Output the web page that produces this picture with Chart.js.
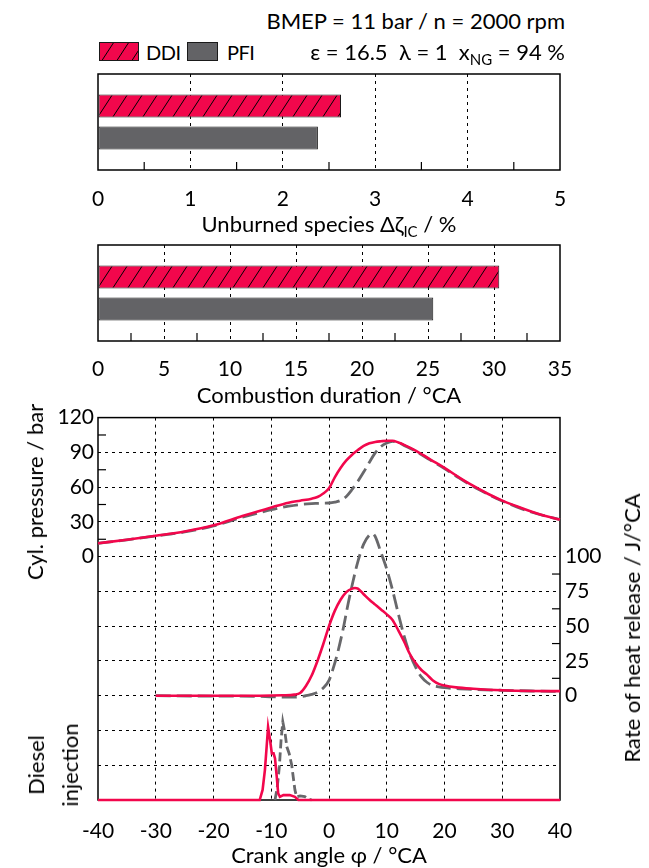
<!DOCTYPE html>
<html lang="en">
<head>
<meta charset="UTF-8">
<title>DDI vs PFI - unburned species, combustion duration, pressure and heat release</title>
<script src="https://cdn.jsdelivr.net/npm/chart.js"></script>
<style>
  body { margin: 0; background: #fff; }
  #page { position: relative; width: 649px; height: 868px; font-family: Lato, "Open Sans", sans-serif; font-size: 22px; color: #000; }
  #page canvas { position: absolute; left: 0; }
  .lbl { position: absolute; white-space: nowrap; line-height: 26px; }
  .leg { font-size: 20px; letter-spacing: -0.5px; }
  .ctr { transform: translateX(-50%); }
  .rot { transform: translate(-50%, -50%) rotate(-90deg); }
  sub { font-size: 15px; vertical-align: -5px; line-height: 0; }
</style>
</head>
<body>
<div id="page">
  <div class="lbl" style="right:84px;top:8px">BMEP = 11 bar / n = 2000 rpm</div>
  <canvas id="swDDI" width="40" height="19" style="left:99px;top:42px"></canvas>
  <div class="lbl leg" style="left:146px;top:39px">DDI</div>
  <canvas id="swPFI" width="31" height="19" style="left:187px;top:42px"></canvas>
  <div class="lbl leg" style="left:227px;top:39px">PFI</div>
  <div class="lbl" style="right:84px;top:39px">&epsilon; = 16.5&nbsp; &lambda; = 1&nbsp; x<sub>NG</sub> = 94 %</div>

  <canvas id="cUnburned" width="649" height="153" style="top:60px"></canvas>
  <div class="lbl ctr" style="left:329px;top:211px">Unburned species &Delta;&zeta;<sub>IC</sub> / %</div>

  <canvas id="cDuration" width="649" height="152" style="top:231px"></canvas>
  <div class="lbl ctr" style="left:329px;top:382px">Combustion duration / °CA</div>

  <canvas id="cCrank" width="649" height="445" style="top:400px"></canvas>
  <div class="lbl ctr" style="left:329px;top:842px">Crank angle &phi; / °CA</div>
  <div class="lbl rot" style="left:35px;top:492px">Cyl. pressure / bar</div>
  <div class="lbl rot" style="left:53px;top:765px;text-align:center;line-height:34px">Diesel<br>injection</div>
  <div class="lbl rot" style="left:632px;top:628px">Rate of heat release / J/°CA</div>
</div>

<script>
  const FONT = 'Lato, "Open Sans", sans-serif';
  const RED = '#f2074c';
  const GREY = '#636366';
  const LINE_GREY = '#68686b';

  // bar charts
  const engines = ['DDI', 'PFI'];
  const unburned = [2.63, 2.38];   // Δζ_IC / %
  const duration = [30.4, 25.4];   // °CA
  const unburnedMinor = [0.5, 1.5, 2.5, 3.5, 4.5];
  const durationMinor = [2.5, 7.5, 12.5, 17.5, 22.5, 27.5, 32.5];

  // cylinder pressure / bar
  const pAngle = [-40, -35, -30, -25, -20, -15, -10, -7, -5, -3, -2, -1, 0, 1, 2, 3, 4, 5, 6, 7, 8, 9, 10, 11, 12, 13, 15, 17.5, 20, 22.5, 25, 27.5, 30, 32.5, 35, 37.5, 40];
  const pDDI = [11.5, 14.6, 18, 21.7, 27, 35, 42.5, 46.6, 48.3, 50, 51.5, 54.5, 59, 68.5, 76.5, 83, 88, 92, 95.5, 97.8, 99, 99.6, 100, 100, 98.5, 96.5, 91.5, 84, 76.7, 68.5, 61, 54.3, 48.4, 43.5, 39, 35, 32];
  const pPFI = [11.5, 14.5, 17.8, 21.3, 26.5, 34, 40.5, 43.5, 45, 45.8, 46, 46.2, 46.3, 47, 48.5, 52, 58, 65, 73, 81.5, 89.5, 95, 98, 99.4, 98.5, 96, 91, 83.5, 76, 68, 60.5, 54, 48, 43, 38.5, 35, 32];
  const pressureMinor = [15, 45, 75, 105];

  // rate of heat release / J/°CA
  const hrrAngleDDI = [-30, -20, -12, -8, -6, -5, -4, -3, -2, -1, 0, 1, 2, 3, 4, 4.5, 5, 6, 7, 8, 9, 10, 11, 12, 13, 14, 15, 16, 17, 18, 19, 20, 22, 25, 30, 35, 40];
  const hrrDDI = [0, 0, 0, 0.3, 0.8, 2, 7, 14.5, 25, 37, 50, 61, 69, 74.5, 77, 77.5, 77, 73, 69, 65.5, 62, 58.5, 54.5, 47, 39, 30, 23.5, 18.5, 15, 11, 8.5, 7.3, 6, 5, 3.9, 3.4, 3.3];
  const hrrAnglePFI = [-30, -20, -12, -8, -6, -4, -3, -2, -1, 0, 0.75, 1.5, 2.5, 3.3, 4.2, 5, 6, 7, 7.5, 8, 9, 10, 11, 12, 13, 14, 15, 16, 17, 18, 19, 20, 22, 25, 30, 35, 40];
  const hrrPFI = [0, -0.3, -0.5, -1, -1, 0, 1, 2.5, 5.5, 11, 20, 31, 49, 66, 83, 96.5, 109, 115.5, 116.5, 114.5, 103, 91, 76, 59, 43, 30, 20.5, 13.5, 9.5, 7.3, 6.4, 5.8, 5.1, 4.5, 3.9, 3.4, 3.1];
  const hrrMinor = [12.5, 37.5, 62.5, 87.5];

  // diesel injection (arbitrary units)
  const injAngleDDI = [-40, -12, -11.5, -11.1, -10.8, -10.55, -10.2, -9.9, -9.6, -9.35, -9.05, -8.8, -8.5, -7.9, -6.8, -5.9, -5.3, 40];
  const injDDI = [0, 0, 0.29, 0.86, 1.53, 2.1, 1.72, 1.34, 1.34, 1.2, 0.67, 0.19, 0.09, 0.14, 0.14, 0.09, 0, 0];
  const injAnglePFI = [-9.35, -8.95, -8.6, -8.3, -8.0, -7.6, -7.3, -6.9, -6.45, -6.2, -5.9, -5.6, -5.0, -4.2, -3.6, -3.0];
  const injPFI = [0, 0.38, 0.96, 1.72, 2.25, 1.91, 1.53, 1.34, 1.0, 0.67, 0.29, 0.09, 0.12, 0.1, 0.03, 0];

  // hatched fill for DDI bars
  function makeHatch() {
    const w = 15, h = 23;
    const tile = document.createElement('canvas');
    tile.width = w; tile.height = h;
    const g = tile.getContext('2d');
    g.fillStyle = RED;
    g.fillRect(0, 0, w, h);
    g.strokeStyle = '#000';
    g.lineWidth = 1;
    g.beginPath();
    for (const dx of [-w, 0, w]) {
      g.moveTo(dx, h);
      g.lineTo(dx + w, 0);
    }
    g.stroke();
    return g.createPattern(tile, 'repeat');
  }
  const hatch = makeHatch();

  // legend swatches
  function swatch(id, fill) {
    const c = document.getElementById(id);
    const g = c.getContext('2d');
    g.fillStyle = fill;
    g.fillRect(0, 0, c.width, c.height);
    g.strokeStyle = '#1a1a1a';
    g.lineWidth = 1;
    g.strokeRect(0.5, 0.5, c.width - 1, c.height - 1);
  }
  swatch('swDDI', hatch);
  swatch('swPFI', GREY);

  // box around the plot area
  const frame = {
    id: 'frame',
    beforeDatasetsDraw(chart) {
      const {ctx, chartArea: a} = chart;
      ctx.save();
      ctx.strokeStyle = '#000';
      ctx.lineWidth = 1.5;
      ctx.strokeRect(a.left, a.top, a.right - a.left, a.bottom - a.top);
      ctx.restore();
    }
  };

  // short minor ticks drawn inside the frame
  const innerTicks = {
    id: 'innerTicks',
    beforeDatasetsDraw(chart, args, opts) {
      const {ctx, chartArea: a} = chart;
      ctx.save();
      ctx.strokeStyle = '#000';
      ctx.lineWidth = 1.2;
      (opts.marks || []).forEach(m => {
        const s = chart.scales[m.scale];
        m.values.forEach(v => {
          const p = s.getPixelForValue(v);
          ctx.beginPath();
          if (m.side === 'bottom') { ctx.moveTo(p, a.bottom); ctx.lineTo(p, a.bottom - m.len); }
          if (m.side === 'left') { ctx.moveTo(a.left, p); ctx.lineTo(a.left + m.len, p); }
          if (m.side === 'right') { ctx.moveTo(a.right, p); ctx.lineTo(a.right - m.len, p); }
          ctx.stroke();
        });
      });
      ctx.restore();
    }
  };

  const tickFont = {family: FONT, size: 21};
  const clear = 'rgba(0,0,0,0)';

  function barChart(id, values, max, step, minor, pad) {
    return new Chart(document.getElementById(id), {
      type: 'bar',
      data: {
        labels: [''],
        datasets: engines.map((e, i) => ({
          label: e,
          data: [values[i]],
          backgroundColor: i === 0 ? hatch : GREY,
          borderColor: '#1a1a1a',
          borderWidth: 1,
          borderSkipped: false,
          categoryPercentage: 0.667,
          barPercentage: 0.72
        }))
      },
      options: {
        indexAxis: 'y',
        responsive: false,
        animation: false,
        devicePixelRatio: 1,
        layout: {padding: {top: 14, left: 98, right: 89, bottom: 0}},
        plugins: {
          legend: {display: false},
          tooltip: {enabled: false},
          innerTicks: {marks: [{scale: 'x', values: minor, side: 'bottom', len: 8}]}
        },
        scales: {
          x: {
            type: 'linear', min: 0, max: max,
            ticks: {stepSize: step, padding: pad, color: '#000', font: tickFont},
            grid: {drawTicks: false, lineWidth: 1, color: c => (c.tick && c.tick.value > 0 && c.tick.value < max) ? '#000' : clear},
            border: {display: false, dash: [3, 4]},
            afterFit: s => { s.height = pad + 26; }
          },
          y: {display: false}
        }
      },
      plugins: [frame, innerTicks]
    });
  }

  barChart('cUnburned', unburned, 5, 1, unburnedMinor, 17);
  barChart('cDuration', duration, 35, 5, durationMinor, 16);

  // crank angle plot: pressure, heat release and injection share one x axis
  const pts = (xs, ys) => xs.map((x, i) => ({x: x, y: ys[i]}));
  const solid = {borderColor: RED, borderWidth: 2.6, clip: false};
  const dashed = {borderColor: LINE_GREY, borderWidth: 2.8, borderDash: [15, 6], clip: false};

  new Chart(document.getElementById('cCrank'), {
    type: 'line',
    data: {
      datasets: [
        {label: 'DDI pressure', data: pts(pAngle, pDDI), yAxisID: 'y', cubicInterpolationMode: 'monotone', ...solid},
        {label: 'DDI heat release', data: pts(hrrAngleDDI, hrrDDI), yAxisID: 'y2', cubicInterpolationMode: 'monotone', ...solid},
        {label: 'DDI injection', data: pts(injAngleDDI, injDDI), yAxisID: 'y3', tension: 0, ...solid},
        {label: 'PFI pressure', data: pts(pAngle, pPFI), yAxisID: 'y', cubicInterpolationMode: 'monotone', ...dashed},
        {label: 'PFI heat release', data: pts(hrrAnglePFI, hrrPFI), yAxisID: 'y2', cubicInterpolationMode: 'monotone', ...dashed},
        {label: 'PFI injection', data: pts(injAnglePFI, injPFI), yAxisID: 'y3', tension: 0, ...dashed, borderDash: [9, 4]}
      ]
    },
    options: {
      responsive: false,
      animation: false,
      devicePixelRatio: 1,
      elements: {point: {radius: 0}},
      layout: {padding: {top: 17, left: 0, right: 0, bottom: 0}},
      plugins: {
        legend: {display: false},
        tooltip: {enabled: false},
        innerTicks: {marks: [
          {scale: 'y', values: pressureMinor, side: 'left', len: 8},
          {scale: 'y2', values: hrrMinor, side: 'right', len: 8}
        ]}
      },
      scales: {
        x: {
          type: 'linear', min: -40, max: 40,
          ticks: {stepSize: 10, padding: 19, color: '#000', font: tickFont},
          grid: {drawTicks: false, color: c => (c.tick && c.tick.value > -40 && c.tick.value < 40) ? '#000' : clear},
          border: {display: false, dash: [3, 4]},
          afterFit: s => { s.height = 45; }
        },
        y: {
          position: 'left', min: -210, max: 120,
          ticks: {stepSize: 30, padding: 4, color: '#000', font: tickFont, callback: v => v >= 0 ? v : ''},
          grid: {drawTicks: false, color: c => (c.tick && c.tick.value > -210 && c.tick.value < 120) ? '#000' : clear},
          border: {display: false, dash: [3, 4]},
          afterFit: s => { s.width = 98; }
        },
        y2: {
          position: 'right', min: -75, max: 200,
          ticks: {stepSize: 25, padding: 5, color: '#000', font: tickFont, callback: v => (v >= 0 && v <= 100) ? v : ''},
          grid: {display: false, drawTicks: false},
          border: {display: false},
          afterFit: s => { s.width = 89; }
        },
        y3: {display: false, min: 0, max: 11}
      }
    },
    plugins: [frame, innerTicks]
  });
</script>
</body>
</html>
